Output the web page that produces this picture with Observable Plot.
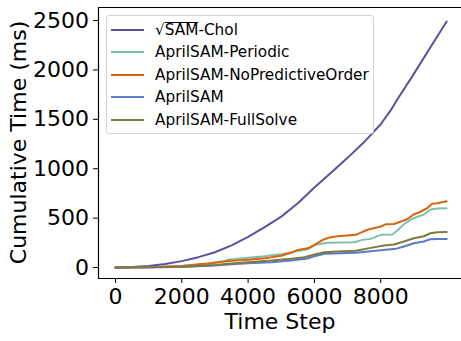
<!DOCTYPE html>
<html><head><meta charset="utf-8">
<script src="https://cdn.jsdelivr.net/npm/d3@7"></script>
<script src="https://cdn.jsdelivr.net/npm/@observablehq/plot@0.6"></script>
<style>
body{margin:0;background:#fff;}
#wrap{position:relative;width:461px;height:341px;overflow:hidden;font-family:"DejaVu Sans";}
#legend{position:absolute;left:106px;top:15px;width:266px;height:117px;border:1px solid #d4d4d4;border-radius:3px;background:rgba(255,255,255,0.8);}
.row{position:absolute;left:0;height:22px;line-height:22px;font-size:15.3px;white-space:nowrap;color:#000;}
.handle{position:absolute;left:4px;top:10px;width:33px;height:2px;}
.lab{position:absolute;left:48px;top:0;}
.ov{border-top:1px solid #000;line-height:15px;display:inline-block;}
</style></head>
<body><div id="wrap"></div>
<script>
const seriesNames = ["SAM-Chol", "AprilSAM-Periodic", "AprilSAM-NoPredictiveOrder", "AprilSAM", "AprilSAM-FullSolve"];
const seriesColors = ["#5b50a0", "#80c0aa", "#d8650f", "#5a7bc8", "#7f7a40"];

const xTicks = [0, 2000, 4000, 6000, 8000];
const yTicks = [0, 500, 1000, 1500, 2000, 2500];
const xLabel = "Time Step";
const yLabel = "Cumulative Time (ms)";

const cholSteps  = [0, 500, 1000, 1500, 2000, 2500, 3000, 3500, 4000, 4500, 5000, 5500, 6000, 6500, 7000, 7500, 8000, 8300, 8500, 9000, 9500, 9990];
const cholValues = [0, 5, 15, 35, 65, 105, 155, 225, 310, 410, 515, 650, 810, 960, 1110, 1270, 1450, 1590, 1700, 1960, 2230, 2490];

const periodicSteps  = [0, 1000, 2000, 2800, 3200, 3400, 4000, 4500, 4700, 5000, 5300, 5800, 6000, 6200, 6400, 7200, 7450, 7700, 8000, 8350, 8500, 8700, 8950, 9150, 9300, 9500, 9700, 9990];
const periodicValues = [0, 3, 15, 40, 60, 78, 98, 115, 125, 135, 155, 185, 225, 240, 250, 256, 280, 290, 331, 334, 374, 438, 493, 519, 536, 587, 597, 600];

const noPredSteps  = [0, 1000, 2000, 2800, 3300, 3500, 4000, 4500, 4700, 5000, 5300, 5500, 5800, 6000, 6250, 6450, 6700, 7250, 7400, 7600, 8000, 8150, 8400, 8800, 9000, 9150, 9400, 9550, 9700, 9990];
const noPredValues = [0, 3, 15, 40, 60, 68, 80, 95, 104, 120, 150, 178, 195, 230, 280, 304, 316, 331, 354, 382, 415, 437, 441, 489, 539, 557, 600, 645, 651, 670];

const aprilSteps  = [0, 1000, 2000, 3000, 3500, 4000, 4700, 5300, 5800, 6000, 6300, 7250, 7700, 8300, 8450, 8700, 9000, 9300, 9500, 9700, 9990];
const aprilValues = [0, 2, 6, 20, 32, 44, 54, 71, 91, 115, 139, 149, 165, 185, 189, 213, 246, 263, 287, 290, 290];

const fullSteps  = [0, 1000, 2000, 3000, 3500, 4000, 4700, 5300, 5700, 6000, 6300, 6700, 7250, 7700, 8100, 8400, 8700, 9000, 9300, 9500, 9700, 9990];
const fullValues = [0, 2, 8, 25, 40, 54, 71, 88, 104, 132, 155, 162, 169, 199, 223, 233, 263, 297, 317, 347, 357, 360];

const stepsList = [cholSteps, periodicSteps, noPredSteps, aprilSteps, fullSteps];
const valuesList = [cholValues, periodicValues, noPredValues, aprilValues, fullValues];

const tables = stepsList.map((steps, k) => steps.map((s, i) => ({step: s, value: valuesList[k][i], series: seriesNames[k]})));

const xDomain = [-513, 10437];
const yDomain = [-111, 2632];

const chart = Plot.plot({
  width: 461,
  height: 341,
  marginLeft: 98,
  marginRight: 0,
  marginTop: 7,
  marginBottom: 63,
  style: {fontFamily: "DejaVu Sans", fontSize: "22px", background: "white", color: "black", overflow: "visible"},
  x: {domain: xDomain, label: null},
  y: {domain: yDomain, label: null},
  marks: [
    ...tables.map((t, k) => Plot.line(t, {x: "step", y: "value", stroke: seriesColors[k], strokeWidth: 2})),
    Plot.ruleX([xDomain[0]], {stroke: "black", strokeWidth: 1.2}),
    Plot.ruleY([yDomain[0], yDomain[1]], {stroke: "black", strokeWidth: 1.2}),
    Plot.axisX({ticks: xTicks, tickSize: 5, tickPadding: 5, tickFormat: d3.format("d"), label: null}),
    Plot.axisY({ticks: yTicks, tickSize: 5, tickPadding: 4.5, tickFormat: d3.format("d"), label: null}),
    Plot.text([xLabel], {frameAnchor: "bottom", dy: 50, lineAnchor: "bottom", text: d => d, fontSize: 22})
  ]
});

const wrap = document.getElementById("wrap");
wrap.appendChild(chart);

// y-axis title, rotated, centred on the plot frame
const svg = d3.select(wrap).select("svg");
const frameMid = (7 + (341 - 63)) / 2;
svg.append("text")
  .attr("transform", `translate(26,${frameMid}) rotate(-90)`)
  .attr("text-anchor", "middle")
  .attr("font-family", "DejaVu Sans")
  .attr("font-size", 22)
  .attr("fill", "black")
  .text(yLabel);

const legend = document.createElement("div");
legend.id = "legend";
seriesNames.forEach((name, i) => {
  const row = document.createElement("div");
  row.className = "row";
  row.style.top = (3 + i * 22.4) + "px";
  row.style.width = "260px";
  const h = document.createElement("span");
  h.className = "handle";
  h.style.background = seriesColors[i];
  row.appendChild(h);
  const lab = document.createElement("span");
  lab.className = "lab";
  if (i === 0) {
    lab.innerHTML = "√<span class='ov'>SAM</span>-Chol";
  } else {
    lab.textContent = name;
  }
  row.appendChild(lab);
  legend.appendChild(row);
});
wrap.appendChild(legend);
</script>
</body></html>
